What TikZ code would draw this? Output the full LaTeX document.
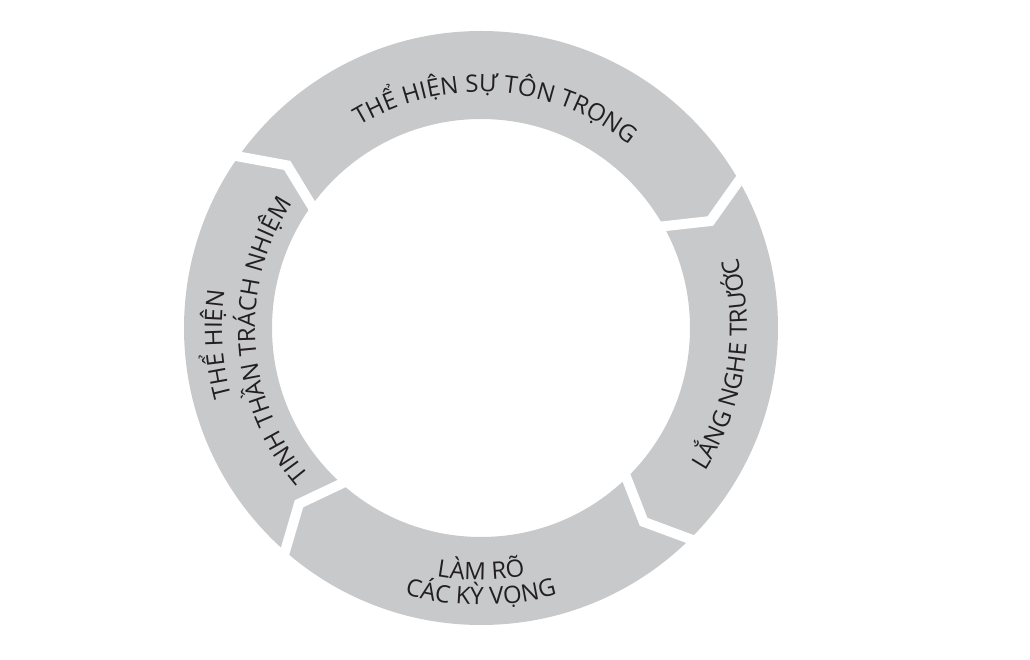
\documentclass[tikz,border=0pt]{standalone}
\usepackage{fontspec}
\setmainfont{Open Sans}
\usetikzlibrary{decorations.text}
\definecolor{ringgray}{RGB}{200,201,203}
\definecolor{inkdark}{HTML}{231F20}
\newcommand{\ringfont}{\fontsize{24}{29}\selectfont\color{inkdark}}

\begin{document}
\begin{tikzpicture}[x=1pt, y=1pt,
  gapline/.style={white, line width=10pt, line join=miter},
  ringtext/.style={decorate, decoration={text along path, text align=center, text={#1}}}]

  \useasboundingbox (-481,-332) rectangle (549,328);

  %% Gray ring
  \fill[ringgray, even odd rule] (0,0) circle (297) (0,0) circle (209);

  %% White chevron gaps, all pointing clockwise
  \foreach \a in {146,31,-44,230}{
    \draw[gapline] (\a:312) -- ({\a-6}:253) -- (\a:194);
  }

  %% Top segment
  \path[ringtext={|\ringfont|THỂ HIỆN SỰ TÔN TRỌNG}]
    (146:236) arc[start angle=146, end angle=26, radius=236];

  %% Right segment (reads upwards)
  \path[ringtext={|\ringfont|LẮNG NGHE TRƯỚC}]
    (-63.6:266) arc[start angle=-63.6, end angle=46.4, radius=266];

  %% Bottom segment, two lines
  \path[ringtext={|\ringfont|LÀM RÕ}]
    (215:252) arc[start angle=215, end angle=325, radius=252];
  \path[ringtext={|\ringfont|CÁC KỲ VỌNG}]
    (215:277) arc[start angle=215, end angle=325, radius=277];

  %% Left segment, two lines (reads upwards)
  \path[ringtext={|\ringfont|THỂ HIỆN}]
    (238.5:259) arc[start angle=238.5, end angle=128.5, radius=259];
  \path[ringtext={|\ringfont|TINH THẦN TRÁCH NHIỆM}]
    (238.5:226) arc[start angle=238.5, end angle=128.5, radius=226];

\end{tikzpicture}
\end{document}
